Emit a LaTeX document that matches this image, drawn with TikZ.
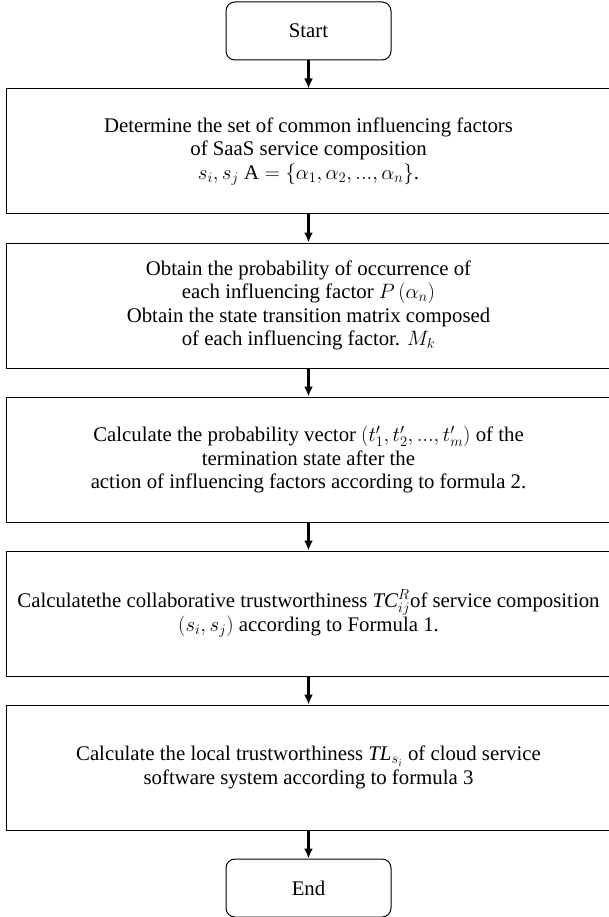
\RequirePackage{fix-cm}
\documentclass[tikz,border=0pt]{standalone}
\usepackage{fontspec}
\setmainfont{Liberation Serif}
\usetikzlibrary{positioning,arrows.meta}
\tikzset{>={Latex[length=10pt,width=9pt]}}
\tikzset{
  terminal/.style = {
    draw, rounded corners=9pt, line width=1pt,
    minimum width=165pt, minimum height=58pt
  },
  process/.style = {
    draw, line width=1pt, inner sep=2pt,
    minimum width=605pt, minimum height=125pt,
    text width=601pt, align=flush center
  },
  flow/.style = {->, line width=2.2pt}
}

\begin{document}
\begin{tikzpicture}[font=\fontsize{20.8}{23.5}\selectfont, node distance=28pt]
  \useasboundingbox (0,0) rectangle (608pt,-917pt);
  \node[terminal] (start) at (308.5pt,-31pt) {Start};
  \node[process, below=of start] (determine)
    {Determine the set of common influencing factors\\
     of SaaS service composition\\
     $s_i, s_j\ \mathrm{A} = \{\alpha_1, \alpha_2, ..., \alpha_n\}$.};
  \node[process, below=of determine] (obtain)
    {Obtain the probability of occurrence of\\
     each influencing factor $P\,(\alpha_n)$\\
     Obtain the state transition matrix composed\\
     of each influencing factor. $M_k$};
  \node[process, below=of obtain] (vector)
    {Calculate the probability vector $(t'_1, t'_2, ..., t'_m)$ of the\\
     termination state after the\\
     action of influencing factors according to formula 2.};
  \node[process, below=of vector] (collab)
    {Calculatethe collaborative trustworthiness $\mathit{TC}^{R}_{ij}$of service composition\\
     $(s_i, s_j)$ according to Formula 1.};
  \node[process, below=of collab] (local)
    {Calculate the local trustworthiness $\mathit{TL}_{s_i}$ of cloud service\\
     software system according to formula 3};
  \node[terminal, below=of local] (stop) {End};
  %
  \draw[flow] (start) -- (determine);
  \draw[flow] (determine) -- (obtain);
  \draw[flow] (obtain) -- (vector);
  \draw[flow] (vector) -- (collab);
  \draw[flow] (collab) -- (local);
  \draw[flow] (local) -- (stop);
\end{tikzpicture}
\end{document}
